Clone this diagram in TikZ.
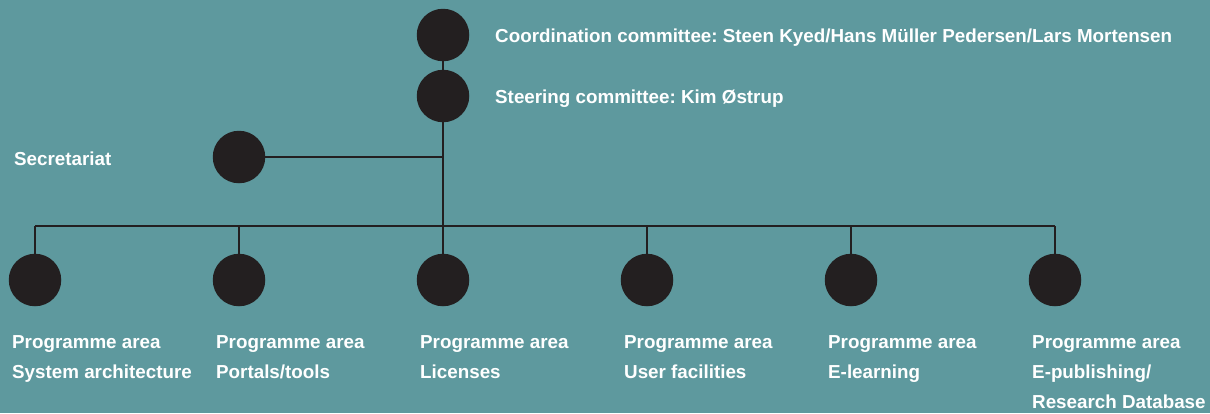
\documentclass[tikz,border=0pt]{standalone}
\usepackage{fontspec}
\setmainfont{Liberation Sans}
\definecolor{bgteal}{HTML}{5E999E}
\definecolor{dot}{HTML}{231F20}
\begin{document}
\frenchspacing
\begin{tikzpicture}[x=1pt,y=-1pt,
  dotnode/.style={circle,fill=dot,draw=none,minimum size=52.5pt,inner sep=0pt},
  lbl/.style={anchor=base west,inner sep=0pt,text=white,font=\bfseries\fontsize{18.8}{30}\selectfont\frenchspacing},
  conn/.style={draw=dot,line width=1.1pt}]
\fill[bgteal] (0,0) rectangle (1210,413);
\useasboundingbox (0,0) rectangle (1210,413);
% circles
\node[dotnode] (coord) at (443,35) {};
\node[dotnode] (steer) at (443,96) {};
\node[dotnode] (secr) at (239,157) {};
\foreach \n/\x in {p1/35,p2/239,p3/443,p4/647,p5/851,p6/1055}{
  \node[dotnode] (\n) at (\x,280) {};
}
% junction coordinates
\coordinate (jsec) at (443,157);
\coordinate (jbus) at (443,226);
\foreach \n/\x in {p1/35,p2/239,p3/443,p4/647,p5/851,p6/1055}{
  \coordinate (b\n) at (\x,226);
}
% connectors
\draw[conn] (coord) -- (steer);
\draw[conn] (steer) -- (jbus);
\draw[conn] (secr) -- (jsec);
\draw[conn] (bp1) -- (bp6);
\foreach \n in {p1,p2,p3,p4,p5,p6}{
  \draw[conn] (b\n) -- (\n);
}
% labels
\node[lbl] (tcoord) at (495,42) {Coordination committee: Steen Kyed/Hans Müller Pedersen/Lars Mortensen};
\node[lbl] (tsteer) at (495,103) {Steering committee: Kim Østrup};
\node[lbl] (tsecr) at (14,165) {Secretariat};
\foreach \n/\x/\t in {1/12/{System architecture},2/216/{Portals/tools},3/420/{Licenses},4/624/{User facilities},5/828/{E-learning},6/1032/{E-publishing/}}{
  \node[lbl] (ta\n) at (\x,348) {Programme area};
  \node[lbl] (tb\n) at (\x,378) {\t};
}
\node[lbl] (tc6) at (1032,408) {Research Database};
\end{tikzpicture}
\end{document}
